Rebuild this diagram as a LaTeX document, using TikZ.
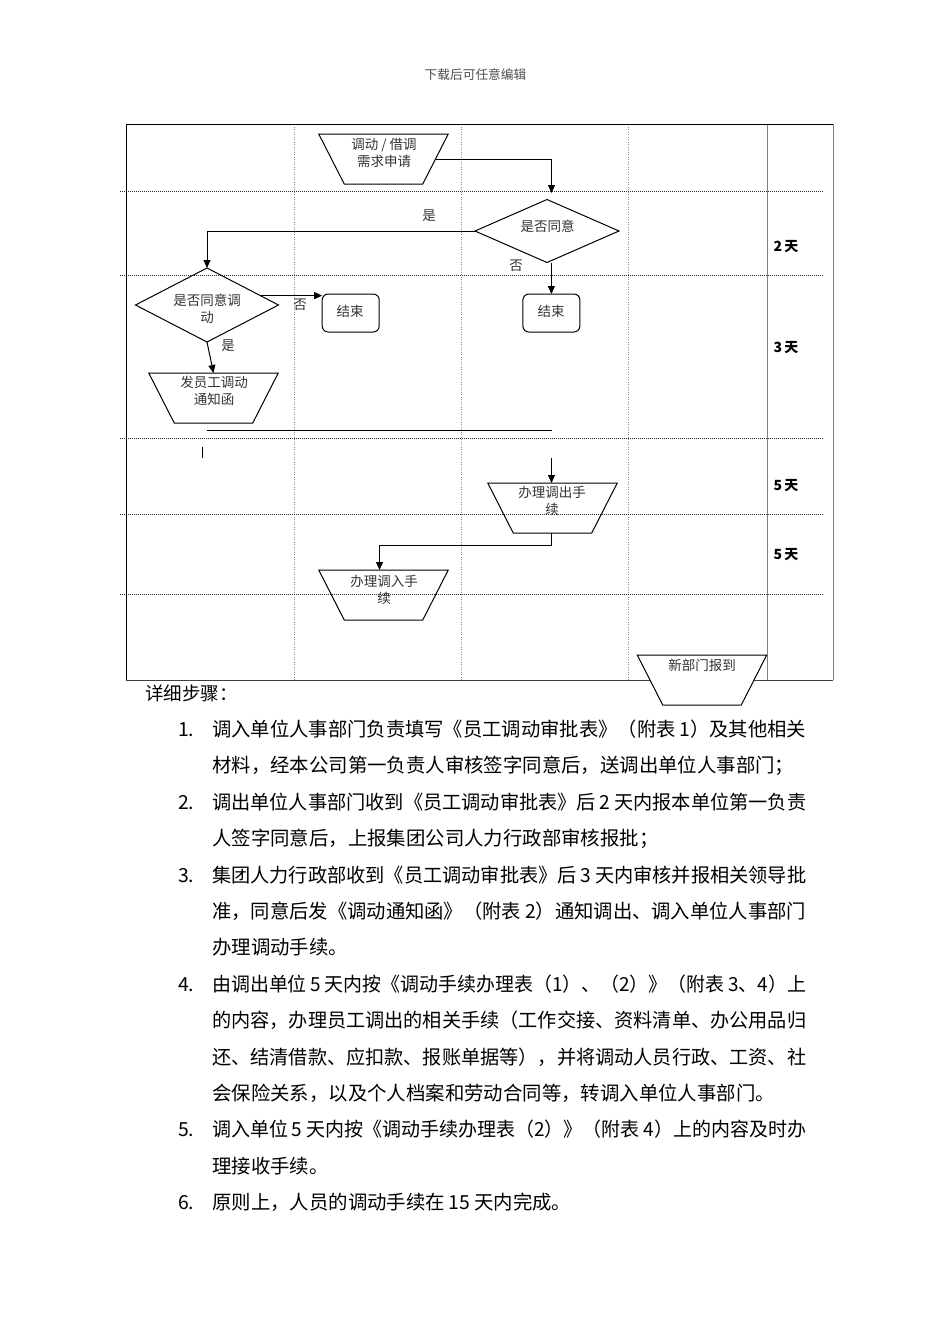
\documentclass[tikz,border=0pt]{standalone}
\usepackage{fontspec}
\setmainfont{Noto Sans CJK SC}
\usepackage{graphicx}
\usetikzlibrary{shapes.geometric,arrows.meta,calc}
\newcommand\dgap{\hspace{0.2em}}
\newcommand\jline[1]{\resizebox{594pt}{\height}{#1}}
% trapezoid outline drawn on the anchors of a named (invisible) rectangle node
\newcommand\trapdraw[2][]{\draw[trapline,#1] (#2.north west) -- (#2.north east)
  -- ([xshift=-25.5pt]#2.south east) -- ([xshift=25.5pt]#2.south west) -- cycle;}
\tikzset{
  trapz/.style={rectangle, minimum width=129.5pt, minimum height=50pt, inner sep=0pt, outer sep=0pt},
  trapline/.style={draw, line width=1pt, line join=miter},
  diam/.style={draw, line width=1pt, diamond, aspect=2, inner sep=0pt, outer sep=0pt},
  endbox/.style={draw, line width=1pt, rounded corners=6pt, minimum width=57pt,
    minimum height=38pt, inner sep=0pt, outer sep=0pt},
  lbl/.style={font=\fontsize{13.5pt}{17pt}\selectfont, text=black!80, align=center, inner sep=0pt},
  daylbl/.style={font=\fontsize{14pt}{16pt}\bfseries\selectfont, inner sep=0pt},
  conn/.style={draw, line width=1pt},
  arr/.style={draw, line width=1pt, -{Triangle[length=8pt,width=7pt]}},
  bodytxt/.style={anchor=west, inner sep=0pt, text height=17pt, text depth=2.2pt,
    font=\fontsize{19.4pt}{24pt}\selectfont},
}
\begin{document}
\begin{tikzpicture}[x=1pt,y=-1pt]
\useasboundingbox (0,0) rectangle (950,1344);

% header
\node[font=\fontsize{12.7pt}{15pt}\selectfont, text=black!70, inner sep=0pt] (hdr) at (475.5,75) {下载后可任意编辑};

% table grid
\foreach \x in {294,461,628}
  \draw[black!45, line width=0.6pt, dash pattern=on 1pt off 1.5pt] (\x,124) -- (\x,680);
\foreach \y in {191,275,438,514,594}
  \draw[black!85, line width=0.8pt, dash pattern=on 1pt off 1pt] (120,\y) -- (823,\y);
\draw[line width=0.8pt, black!50] (767,124) -- (767,680);
\draw[line width=0.8pt, black!50] (833,124) -- (833,680);
\draw[line width=0.9pt] (126,680) -- (126,124) -- (833,124);
\draw[line width=0.9pt, black!75] (126,680) -- (833,680);

% day labels
\node[daylbl] (day1) at (786,247) {2\hspace{2pt}天};
\node[daylbl] (day2) at (786,348) {3\hspace{2pt}天};
\node[daylbl] (day3) at (786,486) {5\hspace{2pt}天};
\node[daylbl] (day4) at (786,555) {5\hspace{2pt}天};

% shapes
\node[trapz] (t1) at (383.5,159) {};
\trapdraw{t1}
\node[lbl] (t1l) at (384,152.5) {调动 / 借调\\需求申请};

\node[diam, minimum width=144pt, minimum height=63pt] (d1) at (547,231) {};
\node[lbl] (d1l) at (547.5,226) {是否同意};

\node[diam, minimum width=143pt, minimum height=74pt] (d2) at (207,305) {};
\node[lbl] (d2l) at (207,308.5) {是否同意调\\动};

\node[endbox] (b1) at (350.7,313) {};
\node[lbl] (b1l) at (350,311.7) {结束};
\node[endbox] (b2) at (551.4,313) {};
\node[lbl] (b2l) at (551,311.7) {结束};

\node[trapz] (t2) at (213.5,398) {};
\trapdraw{t2}
\node[lbl] (t2l) at (214,391) {发员工调动\\通知函};

\node[trapz] (t3) at (552.5,508) {};
\trapdraw{t3}
\node[lbl] (t3l) at (552,501) {办理调出手\\续};

\node[trapz] (t4) at (383.5,595) {};
\trapdraw{t4}
\node[lbl] (t4l) at (384,589.5) {办理调入手\\续};

\node[trapz] (t5) at (702,680) {};
\trapdraw[fill=white]{t5}
\node[lbl] (t5l) at (702,665) {新部门报到};

% connectors
\coordinate (t1e) at ($(t1.east)+(-12.75,0)$);
\coordinate (a1) at (551.5,193);
\draw[arr] (t1e) -| (a1);
\draw[arr] (d1.west) -| (d2.north);
\node[lbl] (yes1) at (429,215.7) {是};
\draw[arr] (b2.north |- d1.south) -- (b2.north);
\node[lbl] (no1) at (516,265.7) {否};
\draw[arr] (d2.10) -- (d2.10 -| b1.west);
\node[lbl] (no2) at (300,305) {否};
\draw[arr] (d2.south) -- (t2.north);
\node[lbl] (yes2) at (228,346) {是};

\coordinate (h1) at (207,430);
\coordinate (h2) at (551.5,430);
\draw[conn] (h1) -- (h2);
\coordinate (k1) at (202,447);
\coordinate (k2) at (202,458);
\draw[conn] (k1) -- (k2);
\coordinate (a3) at (551.5,458);
\draw[arr] (a3) -- (a3 |- t3.north);
\draw[arr] ($(t3.south)+(-1,0)$) -- ++(0,12) -| ($(t4.north)+(-4,0)$);

% body text
\node[bodytxt, font=\fontsize{18.5pt}{22pt}\selectfont] (hd) at (145,693) {详细步骤：};
\node[bodytxt] (n1) at (178,729) {1.};
\node[bodytxt] (l1) at (212,729) {\jline{调入单位人事部门负责填写《员工调动审批表》（附表\dgap 1）及其他相关}};
\node[bodytxt] (l2) at (212,765.4) {材料，经本公司第一负责人审核签字同意后，送调出单位人事部门；};
\node[bodytxt] (n2) at (178,801.8) {2.};
\node[bodytxt] (l3) at (212,801.8) {\jline{调出单位人事部门收到《员工调动审批表》后\dgap 2\dgap 天内报本单位第一负责}};
\node[bodytxt] (l4) at (212,838.2) {人签字同意后，上报集团公司人力行政部审核报批；};
\node[bodytxt] (n3) at (178,874.6) {3.};
\node[bodytxt] (l5) at (212,874.6) {\jline{集团人力行政部收到《员工调动审批表》后\dgap 3\dgap 天内审核并报相关领导批}};
\node[bodytxt] (l6) at (212,911) {\jline{准，同意后发《调动通知函》（附表\dgap 2）通知调出、调入单位人事部门}};
\node[bodytxt] (l7) at (212,947.4) {办理调动手续。};
\node[bodytxt] (n4) at (178,983.8) {4.};
\node[bodytxt] (l8) at (212,983.8) {\jline{由调出单位\dgap 5\dgap 天内按《调动手续办理表（1）、（2）》（附表\dgap 3、4）上}};
\node[bodytxt] (l9) at (212,1020.2) {\jline{的内容，办理员工调出的相关手续（工作交接、资料清单、办公用品归}};
\node[bodytxt] (l10) at (212,1056.6) {\jline{还、结清借款、应扣款、报账单据等），并将调动人员行政、工资、社}};
\node[bodytxt] (l11) at (212,1093) {会保险关系，以及个人档案和劳动合同等，转调入单位人事部门。};
\node[bodytxt] (n5) at (178,1129.4) {5.};
\node[bodytxt] (l12) at (212,1129.4) {\jline{调入单位\dgap 5\dgap 天内按《调动手续办理表（2）》（附表\dgap 4）上的内容及时办}};
\node[bodytxt] (l13) at (212,1165.8) {理接收手续。};
\node[bodytxt] (n6) at (178,1202.2) {6.};
\node[bodytxt] (l14) at (212,1202.2) {原则上，人员的调动手续在\dgap 15\dgap 天内完成。};
\end{tikzpicture}
\end{document}
